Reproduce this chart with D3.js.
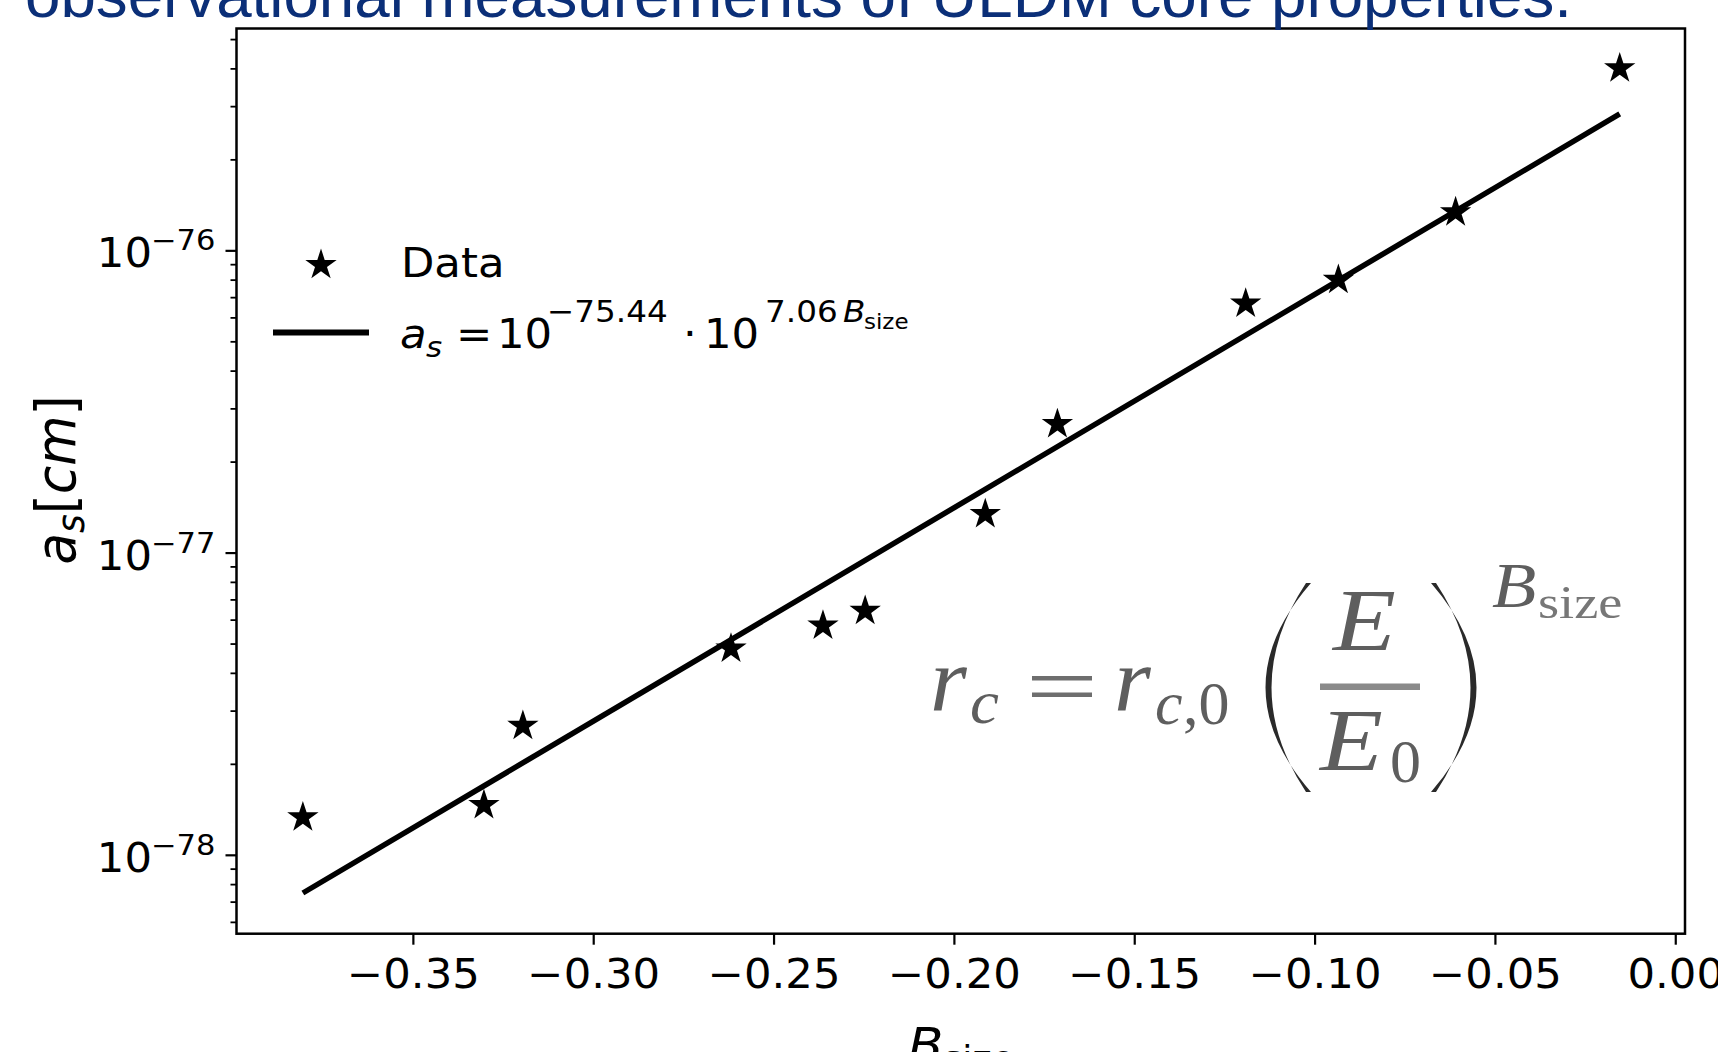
<!DOCTYPE html>
<html><head><meta charset="utf-8">
<script src="https://cdn.jsdelivr.net/npm/d3@7"></script>
<style>html,body{margin:0;padding:0;background:#fff;} svg{display:block;}</style>
</head><body>
<svg id="chart" width="1718" height="1052"></svg>
<script>
// ---- data ----
const bSize = [-0.3805, -0.3303, -0.3195, -0.2618, -0.2363, -0.2246, -0.1913, -0.1713, -0.1191, -0.0934, -0.0609, -0.0154];
const asValues = [1.33e-78, 1.46e-78, 2.67e-78, 4.81e-78, 5.73e-78, 6.41e-78, 1.34e-77, 2.66e-77, 6.66e-77, 7.98e-77, 1.336e-76, 4.0e-76];
const fitParams = [-75.44, 7.06]; // log10 intercept, slope
const xTickValues = [-0.35, -0.30, -0.25, -0.20, -0.15, -0.10, -0.05, 0.00];
const xTickLabels = ["\u22120.35", "\u22120.30", "\u22120.25", "\u22120.20", "\u22120.15", "\u22120.10", "\u22120.05", "0.00"];
const yTickExponents = [-78, -77, -76];
const yTickLabels = ["\u221278", "\u221277", "\u221276"];
const legendLabels = ["Data"];
const titleText = "observational measurements of ULDM core properties.";

const FONT = "'DejaVu Sans', sans-serif";
const SERIF = "'Liberation Serif', 'DejaVu Serif', serif";
const SX = 1.07; // horizontal stretch of the embedded figure's text
const svg = d3.select("#chart");
const plot = {left: 236.5, right: 1685, top: 28.5, bottom: 933.7};

const x = d3.scaleLinear().domain([-0.3989, 0.0027]).range([plot.left, plot.right]);
const y = d3.scaleLog().domain([Math.pow(10, -78.261), Math.pow(10, -75.266)]).range([plot.bottom, plot.top]);

function txt(g, px, py, str, size, opts = {}) {
  const t = g.append("text")
    .attr("transform", `translate(${px},${py}) scale(${opts.sx || SX},1)`)
    .attr("font-size", size)
    .attr("text-anchor", opts.anchor || "start")
    .text(str);
  if (opts.italic) t.attr("font-style", "italic");
  if (opts.fill) t.attr("fill", opts.fill);
  if (opts.family) t.attr("font-family", opts.family);
  return t;
}

// ---- x axis ----
const gx = svg.append("g").attr("transform", `translate(0,${plot.bottom})`)
  .call(d3.axisBottom(x).tickValues(xTickValues).tickSize(11).tickSizeOuter(0)
    .tickFormat((d, i) => xTickLabels[i]));
gx.select(".domain").remove();
gx.selectAll(".tick line").attr("stroke", "#000").attr("stroke-width", 2.2);
gx.selectAll(".tick text").attr("y", 54.5).attr("dy", null)
  .attr("transform", `scale(${SX},1)`)
  .attr("font-family", FONT).attr("font-size", 40.5).attr("fill", "#000");

// ---- y axis (log) ----
const majorVals = yTickExponents.map(e => Math.pow(10, e));
const gy = svg.append("g").attr("transform", `translate(${plot.left},0)`)
  .call(d3.axisLeft(y).tickValues(majorVals).tickSize(11).tickSizeOuter(0).tickFormat(""));
gy.select(".domain").remove();
gy.selectAll(".tick line").attr("stroke", "#000").attr("stroke-width", 2.2);

const [ylo, yhi] = y.domain();
const minorVals = [];
for (let e = -79; e <= -76; e++) for (let k = 2; k <= 9; k++) {
  const v = k * Math.pow(10, e);
  if (v >= ylo && v <= yhi) minorVals.push(v);
}
const gym = svg.append("g").attr("transform", `translate(${plot.left},0)`)
  .call(d3.axisLeft(y).tickValues(minorVals).tickSize(6).tickSizeOuter(0).tickFormat(""));
gym.select(".domain").remove();
gym.selectAll(".tick line").attr("stroke", "#000").attr("stroke-width", 1.8);

const gyl = svg.append("g").attr("font-family", FONT).attr("fill", "#000");
yTickExponents.forEach((e, i) => {
  const yy = y(Math.pow(10, e)) + 17;
  txt(gyl, 152, yy, "10", 40.5, {anchor: "end"});
  txt(gyl, 151, yy - 17, yTickLabels[i], 28.5);
});

// ---- frame ----
svg.append("rect").attr("x", plot.left).attr("y", plot.top)
  .attr("width", plot.right - plot.left).attr("height", plot.bottom - plot.top)
  .attr("fill", "none").attr("stroke", "#000").attr("stroke-width", 2.5);

// ---- fit line ----
const fitDomain = d3.extent(bSize);
const fitPts = fitDomain.map(b => [b, Math.pow(10, fitParams[0] + fitParams[1] * b)]);
svg.append("path").datum(fitPts)
  .attr("d", d3.line().x(d => x(d[0])).y(d => y(d[1])))
  .attr("fill", "none").attr("stroke", "#000").attr("stroke-width", 5.5);

// ---- data stars ----
const star = d3.symbol().type(d3.symbolStar).size(305);
svg.append("g").selectAll("path")
  .data(bSize.map((b, i) => [b, asValues[i]]))
  .join("path")
  .attr("transform", d => `translate(${x(d[0])},${y(d[1])})`)
  .attr("d", star).attr("fill", "#000");

// ---- legend ----
const lg = svg.append("g").attr("font-family", FONT).attr("fill", "#000");
lg.append("path").attr("transform", "translate(321,265)").attr("d", star).attr("fill", "#000");
txt(lg, 401, 277, legendLabels[0], 40.5);
lg.append("line").attr("x1", 273).attr("x2", 369).attr("y1", 332.5).attr("y2", 332.5)
  .attr("stroke", "#000").attr("stroke-width", 6);
const ey = 348;
txt(lg, 400, ey, "a", 40.5, {italic: true});
txt(lg, 426, ey + 9, "s", 29, {italic: true});
txt(lg, 456, ey, "=", 40.5);
txt(lg, 497, ey, "10", 40.5);
txt(lg, 547, ey - 26, "\u221275.44", 30.5);
txt(lg, 683, ey, "\u00b7", 40.5);
txt(lg, 704, ey, "10", 40.5);
txt(lg, 765, ey - 26, "7.06", 30.5);
txt(lg, 843, ey - 26, "B", 30.5, {italic: true});
txt(lg, 864, ey - 19, "size", 21.5);

// ---- axis labels ----
const yl = svg.append("text").attr("transform", `translate(75,480) scale(${SX},1) rotate(-90)`)
  .attr("text-anchor", "middle").attr("font-family", FONT).attr("font-size", 51.5).attr("fill", "#000");
yl.append("tspan").attr("font-style", "italic").text("a");
yl.append("tspan").attr("font-style", "italic").attr("font-size", 36).attr("dy", 8).text("s");
yl.append("tspan").attr("dy", -8).text("[");
yl.append("tspan").attr("font-style", "italic").text("cm");
yl.append("tspan").text("]");

const xl = svg.append("text").attr("transform", `translate(961,1062) scale(${SX},1)`)
  .attr("text-anchor", "middle").attr("font-family", FONT).attr("font-size", 48).attr("fill", "#000");
xl.append("tspan").attr("font-style", "italic").text("B");
xl.append("tspan").attr("font-size", 34).attr("dy", 8).text("size");

// ---- inset formula image ----
const ins = svg.append("g").attr("font-family", SERIF).attr("fill", "#5e5e5e");
txt(ins, 930, 710, "r", 90, {italic: true, sx: 1.05});
txt(ins, 970, 723, "c", 62, {italic: true, sx: 1.05});
ins.append("rect").attr("x", 1032).attr("y", 676).attr("width", 60).attr("height", 4.5).attr("fill", "#6e6e6e");
ins.append("rect").attr("x", 1032).attr("y", 692.5).attr("width", 60).attr("height", 4.5).attr("fill", "#6e6e6e");
txt(ins, 1114, 710, "r", 90, {italic: true, sx: 1.05});
txt(ins, 1155, 724, "c", 62, {italic: true, sx: 1.0});
txt(ins, 1183, 724, ",0", 62, {sx: 1.0});
// parentheses
ins.append("path").attr("fill", "#2a2a2a")
  .attr("d", "M1311,583 Q1220,687.5 1311,792 L1306,792 Q1237,687.5 1306,583 Z");
ins.append("path").attr("fill", "#2a2a2a")
  .attr("d", "M1431,583 Q1522,687.5 1431,792 L1436,792 Q1505,687.5 1436,583 Z");
txt(ins, 1333, 650, "E", 88, {italic: true, sx: 1.17});
ins.append("rect").attr("x", 1320).attr("y", 683.5).attr("width", 100).attr("height", 6.5).attr("fill", "#8a8a8a");
txt(ins, 1320, 770, "E", 88, {italic: true, sx: 1.17});
txt(ins, 1390, 782, "0", 62, {sx: 1.0});
txt(ins, 1492, 607, "B", 63, {italic: true, sx: 1.15});
txt(ins, 1538, 618, "size", 46, {sx: 1.18, fill: "#777"});

// ---- slide title (cut off at top) ----
svg.append("text").attr("x", 25).attr("y", 17)
  .attr("font-family", "'Liberation Sans', Arial, sans-serif").attr("font-size", 63.7)
  .attr("textLength", 1547).attr("lengthAdjust", "spacingAndGlyphs")
  .attr("fill", "#0b2f78").text(titleText);
</script>
</body></html>
